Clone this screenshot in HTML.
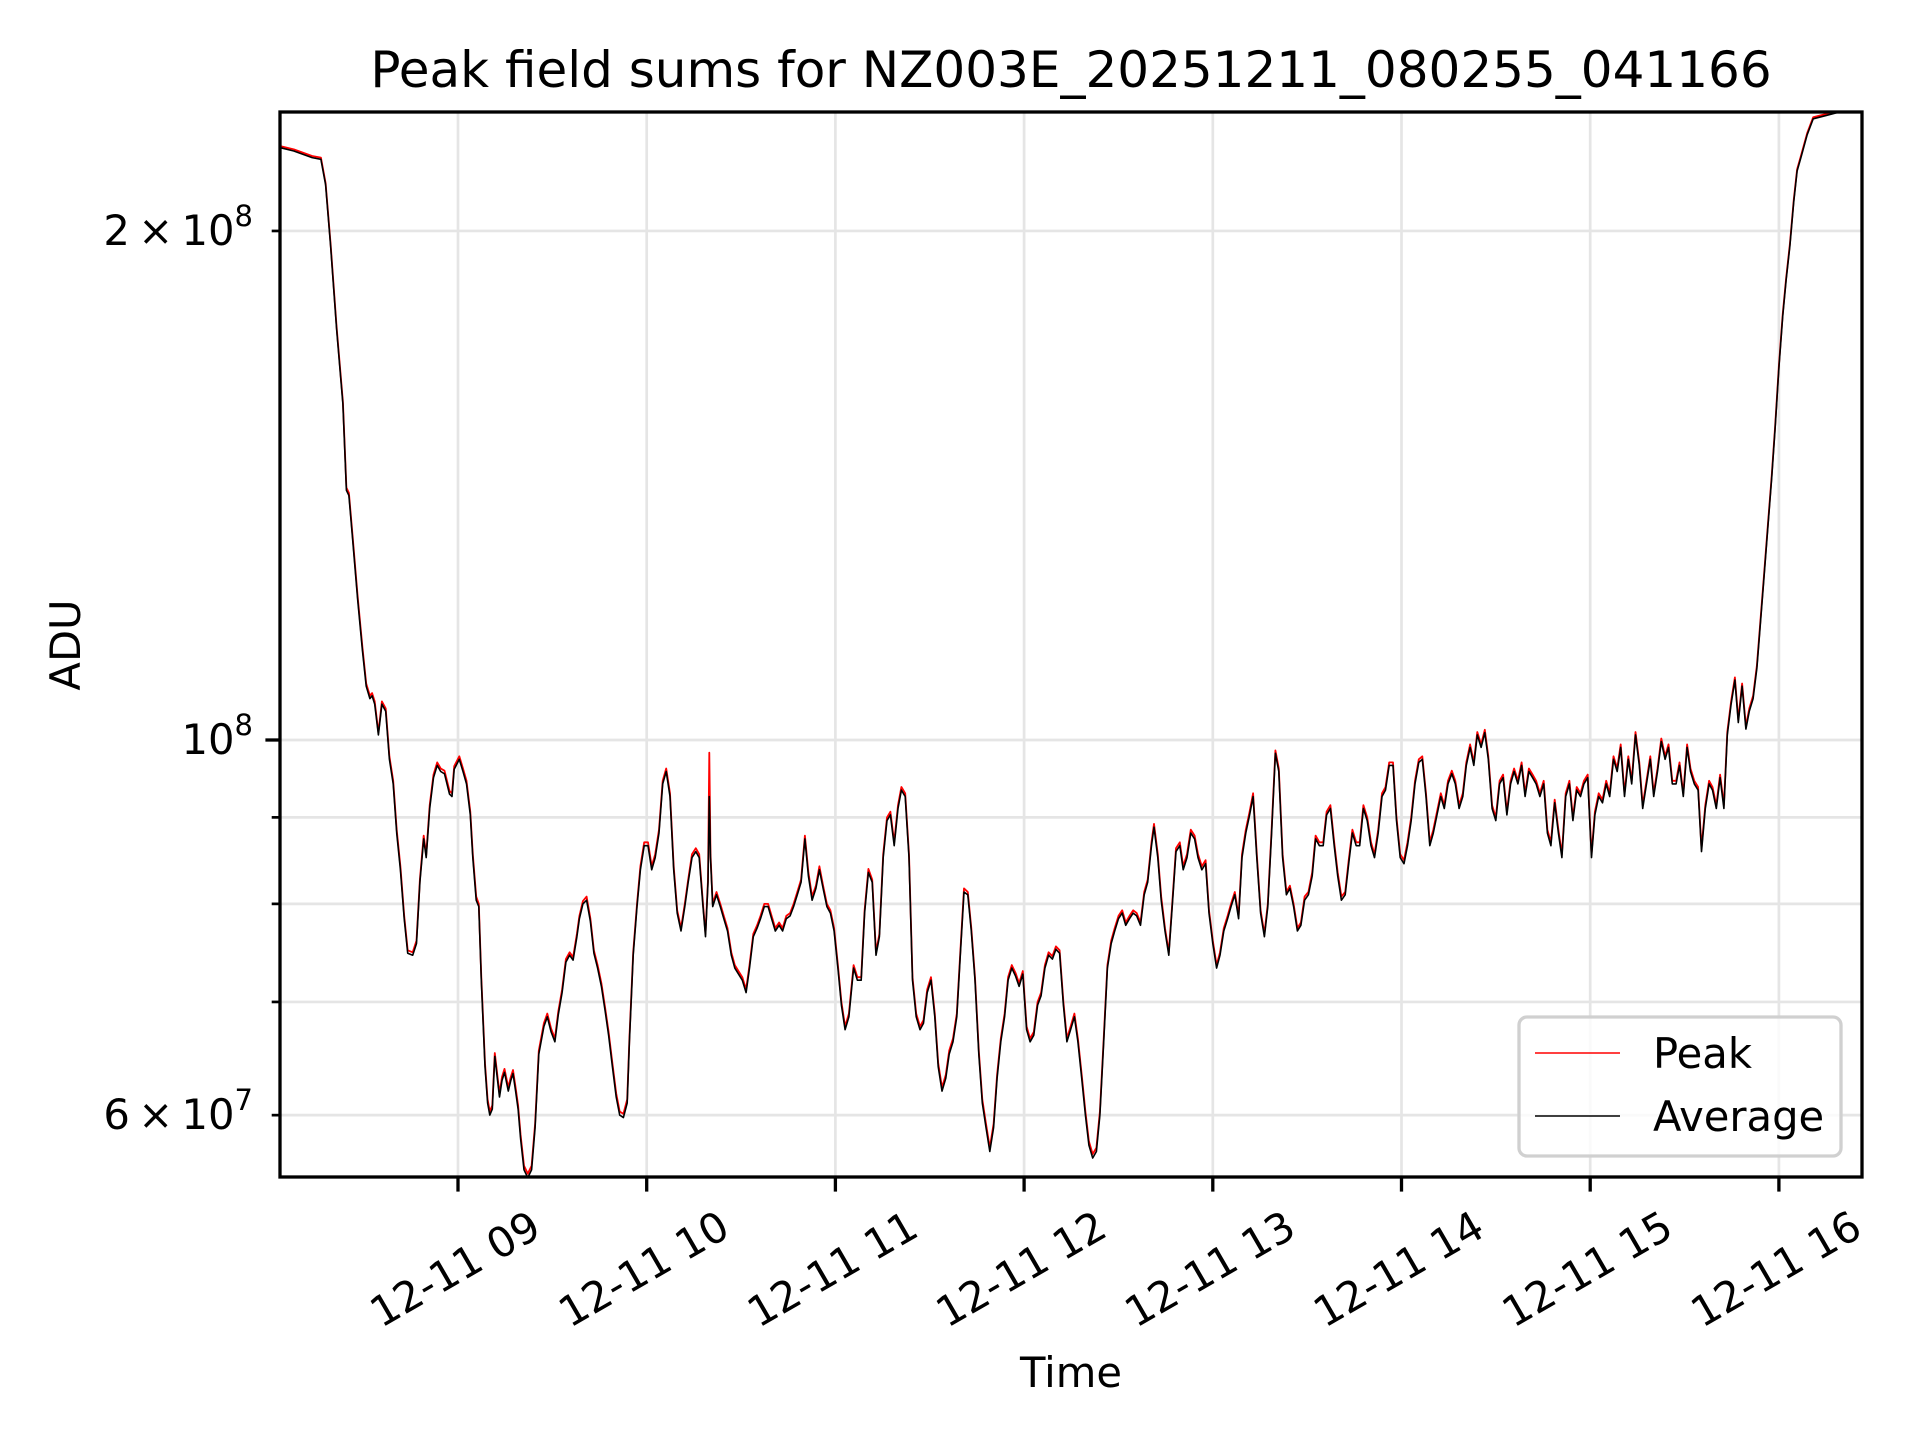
<!DOCTYPE html>
<html><head><meta charset="utf-8"><style>
html,body{margin:0;padding:0;background:#fff;}
svg{display:block;font-family:"DejaVu Sans","Liberation Sans",sans-serif;}
</style></head><body>
<svg id="chart" width="1920" height="1440" viewBox="0 0 1920 1440" xmlns="http://www.w3.org/2000/svg">
<rect x="0" y="0" width="1920" height="1440" fill="#fff"/>
<text x="1071" y="87" font-size="50" text-anchor="middle">Peak field sums for NZ003E_20251211_080255_041166</text>
<text transform="translate(80,645) rotate(-90)" font-size="41.7" text-anchor="middle">ADU</text>
<text x="1071" y="1387" font-size="41.7" text-anchor="middle">Time</text>
<defs><clipPath id="plotclip"><rect x="280" y="112" width="1582" height="1065"/></clipPath></defs>
<g id="grid"></g>
<g id="series" clip-path="url(#plotclip)"></g>
<rect x="280" y="112" width="1582" height="1065" fill="none" stroke="#000" stroke-width="3.3"/>
<g id="ticks"></g>
<g>
<rect x="1519" y="1017" width="322" height="139" rx="8" fill="#fff" fill-opacity="0.8" stroke="#d0d0d0" stroke-width="3.3"/>
<line x1="1535" y1="1053" x2="1620" y2="1053" stroke="#ff0000" stroke-width="1.6"/>
<text x="1653" y="1068" font-size="41.7">Peak</text>
<line x1="1535" y1="1116" x2="1620" y2="1116" stroke="#000" stroke-width="1.6"/>
<text x="1653" y="1131" font-size="41.7">Average</text>
</g>
</svg>
<script>
// time in minutes since 12-11 08:00; values in units of 1e7 ADU
const timesMin = [3.5,7.8,13.6,16.4,17.9,19.5,21.4,23.4,24.5,25.3,26.5,28.1,29.6,30.8,32.0,32.7,33.5,34.7,35.8,37.0,38.2,39.4,40.5,41.7,42.9,44.0,45.6,46.8,47.9,49.1,49.9,51.0,52.2,53.4,54.5,55.7,57.3,58.1,58.8,60.4,61.6,62.7,63.9,64.7,65.8,66.6,67.4,68.6,69.4,70.1,70.9,71.7,72.5,73.2,74.0,74.8,76.0,76.8,77.5,78.3,79.1,79.9,81.0,82.2,83.4,84.5,85.7,87.3,88.4,89.6,90.8,91.9,93.1,94.3,95.5,96.6,97.8,98.6,99.7,100.9,102.1,103.2,104.4,105.6,106.8,107.9,109.1,110.3,111.4,112.6,113.8,114.5,115.7,116.9,118.0,119.2,120.4,121.6,122.7,123.9,125.1,126.2,127.4,128.6,129.7,130.9,132.1,133.2,134.4,135.6,136.7,137.9,138.7,139.5,139.9,140.3,141.0,142.2,143.4,144.5,145.7,146.9,148.0,149.2,150.4,151.6,152.7,153.9,155.1,156.2,157.4,158.6,159.7,160.9,162.1,163.2,164.4,165.6,166.7,167.9,169.1,170.3,171.4,172.6,173.8,174.9,176.1,177.3,178.4,179.6,180.8,181.9,183.1,184.3,185.8,187.0,188.2,189.3,190.5,191.7,192.9,194.0,195.2,196.4,197.5,198.7,199.9,201.0,202.2,203.4,204.5,205.7,206.9,208.0,209.2,210.4,211.6,212.7,213.9,215.1,216.2,217.4,218.6,219.7,220.9,222.1,223.2,224.4,225.6,226.7,227.9,229.1,230.3,231.4,232.6,233.8,234.9,236.1,237.3,238.4,239.6,240.8,241.9,243.1,244.3,245.4,246.6,247.8,249.0,250.1,251.3,252.5,253.6,254.8,256.0,257.1,258.3,259.5,260.6,261.8,263.0,264.1,265.3,266.5,267.7,268.8,270.0,271.2,272.3,273.5,274.7,275.8,277.0,278.2,279.3,280.5,281.3,282.5,283.6,284.8,286.0,287.1,288.3,289.5,290.6,291.8,293.0,294.2,295.3,296.5,297.7,298.8,300.0,301.2,302.3,303.5,304.7,305.8,307.0,308.2,309.3,310.5,311.7,312.8,314.0,315.2,316.4,317.5,318.7,319.9,321.0,322.2,323.4,324.5,325.7,326.9,328.0,329.2,330.4,331.6,332.7,333.9,335.1,336.2,337.4,338.6,339.7,340.9,342.1,343.2,344.4,345.6,346.7,347.9,349.1,350.3,351.4,352.6,353.8,354.9,356.1,357.3,358.4,359.6,360.8,361.9,363.1,364.3,365.5,366.6,367.8,369.0,370.1,371.3,372.5,373.6,374.8,376.0,377.1,378.3,379.5,380.6,381.8,383.0,384.1,385.3,386.5,387.6,388.8,390.0,391.2,392.3,393.5,394.7,395.8,397.0,398.2,399.3,400.5,401.7,402.8,404.0,405.2,406.4,407.5,408.7,409.9,411.0,412.2,413.4,414.5,415.7,416.9,418.0,419.2,420.4,421.5,422.7,423.9,425.1,426.2,427.4,428.6,429.7,430.9,432.1,433.2,434.4,435.6,436.7,437.9,439.1,440.2,441.4,442.6,443.8,444.9,446.1,447.3,448.4,449.6,450.8,451.9,453.1,454.3,455.4,456.6,457.8,458.9,460.1,461.3,462.5,463.6,464.8,466.0,467.1,468.3,469.5,470.6,471.8,473.0,474.1,475.3,476.5,477.7,478.8,480.0,481.2,482.3,483.5,484.7,485.8,487.0,489.0,490.9,494.8,498.7,506.5];
const averageValues = [22.4,22.3,22.1,22.05,21.3,19.6,17.5,15.8,14.05,13.95,13.15,12.1,11.3,10.76,10.58,10.62,10.5,10.07,10.5,10.4,9.74,9.42,8.81,8.38,7.84,7.48,7.46,7.58,8.24,8.74,8.52,9.11,9.50,9.66,9.58,9.55,9.29,9.26,9.61,9.74,9.58,9.42,9.03,8.52,8.04,7.97,7.21,6.41,6.10,6.00,6.05,6.50,6.31,6.15,6.29,6.36,6.20,6.29,6.35,6.20,6.05,5.81,5.57,5.51,5.57,5.90,6.52,6.77,6.86,6.72,6.63,6.88,7.09,7.39,7.46,7.41,7.65,7.84,8.00,8.04,7.81,7.48,7.33,7.15,6.91,6.69,6.41,6.15,6.00,5.98,6.10,6.63,7.46,7.97,8.38,8.66,8.66,8.38,8.52,8.81,9.42,9.58,9.26,8.38,7.90,7.71,7.97,8.24,8.52,8.59,8.52,7.97,7.65,8.24,9.26,8.52,7.97,8.10,7.97,7.84,7.71,7.46,7.33,7.27,7.21,7.09,7.33,7.65,7.74,7.84,7.97,7.97,7.84,7.71,7.77,7.71,7.84,7.87,7.97,8.10,8.24,8.74,8.31,8.04,8.17,8.38,8.17,7.97,7.90,7.71,7.33,6.97,6.74,6.86,7.33,7.21,7.21,7.90,8.35,8.24,7.46,7.65,8.52,8.96,9.03,8.66,9.11,9.34,9.26,8.52,7.21,6.86,6.74,6.80,7.09,7.21,6.86,6.41,6.20,6.31,6.52,6.63,6.86,7.46,8.13,8.10,7.71,7.21,6.52,6.10,5.90,5.71,5.90,6.31,6.63,6.86,7.21,7.33,7.25,7.15,7.27,6.74,6.63,6.69,6.97,7.06,7.33,7.46,7.42,7.52,7.48,6.97,6.63,6.74,6.86,6.63,6.31,6.00,5.76,5.66,5.71,6.00,6.63,7.33,7.58,7.71,7.84,7.90,7.77,7.84,7.90,7.87,7.77,8.10,8.24,8.66,8.88,8.52,8.04,7.71,7.46,7.97,8.59,8.66,8.38,8.52,8.81,8.74,8.52,8.38,8.45,7.90,7.58,7.33,7.46,7.71,7.84,7.97,8.10,7.84,8.52,8.81,9.03,9.26,8.52,7.90,7.65,7.97,8.81,9.82,9.58,8.52,8.10,8.17,7.97,7.71,7.77,8.04,8.10,8.31,8.74,8.66,8.66,9.03,9.11,8.66,8.31,8.04,8.10,8.45,8.81,8.66,8.66,9.11,8.96,8.66,8.52,8.81,9.26,9.34,9.66,9.66,8.96,8.52,8.45,8.66,8.96,9.42,9.70,9.74,9.26,8.66,8.81,9.03,9.26,9.11,9.42,9.55,9.42,9.11,9.26,9.66,9.90,9.66,10.07,9.90,10.10,9.74,9.11,8.96,9.42,9.50,9.03,9.42,9.58,9.42,9.66,9.26,9.58,9.50,9.42,9.26,9.42,8.81,8.66,9.18,8.81,8.52,9.26,9.42,8.96,9.34,9.26,9.42,9.50,8.52,9.03,9.26,9.18,9.42,9.26,9.74,9.58,9.90,9.26,9.74,9.42,10.07,9.66,9.11,9.42,9.74,9.26,9.58,9.98,9.74,9.90,9.42,9.42,9.66,9.26,9.90,9.58,9.42,9.34,8.59,9.11,9.42,9.34,9.11,9.50,9.11,10.07,10.50,10.85,10.24,10.76,10.15,10.40,10.58,11.03,11.70,12.50,13.37,14.29,15.28,16.6,17.8,18.7,19.6,20.8,21.7,22.1,22.8,23.3,23.4,23.5,23.55];
const peakValues = [22.45,22.35,22.15,22.1,21.35,19.65,17.55,15.85,14.1,14.0,13.2,12.15,11.35,10.8,10.62,10.66,10.54,10.1,10.54,10.44,9.78,9.46,8.85,8.42,7.87,7.51,7.49,7.61,8.27,8.78,8.55,9.15,9.54,9.7,9.62,9.59,9.33,9.3,9.65,9.78,9.62,9.46,9.07,8.56,8.08,8.0,7.24,6.44,6.13,6.03,6.08,6.53,6.34,6.18,6.32,6.39,6.23,6.32,6.38,6.23,6.08,5.84,5.6,5.54,5.6,5.93,6.55,6.8,6.89,6.75,6.66,6.91,7.12,7.42,7.49,7.44,7.68,7.87,8.03,8.08,7.84,7.51,7.36,7.18,6.94,6.72,6.44,6.18,6.03,6.01,6.13,6.66,7.49,8.0,8.42,8.7,8.7,8.42,8.56,8.85,9.46,9.62,9.3,8.42,7.93,7.74,8.0,8.27,8.56,8.63,8.56,8.0,7.68,8.27,9.83,8.56,8.0,8.13,8.0,7.87,7.74,7.49,7.36,7.3,7.24,7.12,7.36,7.68,7.77,7.87,8.0,8.0,7.87,7.74,7.8,7.74,7.87,7.9,8.0,8.13,8.27,8.78,8.35,8.08,8.2,8.42,8.2,8.0,7.93,7.74,7.36,7.0,6.77,6.89,7.36,7.24,7.24,7.93,8.39,8.27,7.49,7.68,8.56,9.0,9.07,8.7,9.15,9.38,9.3,8.56,7.24,6.89,6.77,6.83,7.12,7.24,6.89,6.44,6.23,6.34,6.55,6.66,6.89,7.49,8.17,8.13,7.74,7.24,6.55,6.13,5.93,5.74,5.93,6.34,6.66,6.89,7.24,7.36,7.28,7.18,7.3,6.77,6.66,6.72,7.0,7.09,7.36,7.49,7.45,7.55,7.51,7.0,6.66,6.77,6.89,6.66,6.34,6.03,5.79,5.69,5.74,6.03,6.66,7.36,7.61,7.74,7.87,7.93,7.8,7.87,7.93,7.9,7.8,8.13,8.27,8.7,8.92,8.56,8.08,7.74,7.49,8.0,8.63,8.7,8.42,8.56,8.85,8.78,8.56,8.42,8.49,7.93,7.61,7.36,7.49,7.74,7.87,8.0,8.13,7.87,8.56,8.85,9.07,9.3,8.56,7.93,7.68,8.0,8.85,9.86,9.62,8.56,8.13,8.2,8.0,7.74,7.8,8.08,8.13,8.35,8.78,8.7,8.7,9.07,9.15,8.7,8.35,8.08,8.13,8.49,8.85,8.7,8.7,9.15,9.0,8.7,8.56,8.85,9.3,9.38,9.7,9.7,9.0,8.56,8.49,8.7,9.0,9.46,9.74,9.78,9.3,8.7,8.85,9.07,9.3,9.15,9.46,9.59,9.46,9.15,9.3,9.7,9.94,9.7,10.11,9.94,10.14,9.78,9.15,9.0,9.46,9.54,9.07,9.46,9.62,9.46,9.7,9.3,9.62,9.54,9.46,9.3,9.46,8.85,8.7,9.22,8.85,8.56,9.3,9.46,9.0,9.38,9.3,9.46,9.54,8.56,9.07,9.3,9.22,9.46,9.3,9.78,9.62,9.94,9.3,9.78,9.46,10.11,9.7,9.15,9.46,9.78,9.3,9.62,10.02,9.78,9.94,9.46,9.46,9.7,9.3,9.94,9.62,9.46,9.38,8.63,9.15,9.46,9.38,9.15,9.54,9.15,10.11,10.54,10.89,10.28,10.8,10.19,10.44,10.62,11.07,11.74,12.54,13.41,14.33,15.32,16.65,17.85,18.75,19.65,20.85,21.75,22.15,22.85,23.35,23.45,23.55,23.6];
const xTickHours = [9,10,11,12,13,14,15,16];
const xTickLabels = ["12-11 09","12-11 10","12-11 11","12-11 12","12-11 13","12-11 14","12-11 15","12-11 16"];
const yMajorTicks = [1e8];
const yMinorTicks = [6e7,7e7,8e7,9e7,2e8];
const yLabelMantissa = {"60000000":"6","200000000":"2"};

const NS="http://www.w3.org/2000/svg";
const PL=280, PR=1862, PT=112, PB=1177;
function xScale(min){ return 458 + (min-60)*188.7/60; }
function hourToMin(h){ return (h-8)*60; }
function yScale(v){ return 740 - 1691*(Math.log10(v)-8); }
function mk(tag, attrs, parent){ const e=document.createElementNS(NS,tag); for(const k in attrs) e.setAttribute(k,attrs[k]); parent.appendChild(e); return e; }

const grid=document.getElementById('grid');
const ticks=document.getElementById('ticks');
const series=document.getElementById('series');

xTickHours.forEach((h,i)=>{
  const x=xScale(hourToMin(h));
  const g=mk('line',{x1:x,y1:PT,x2:x,y2:PB,stroke:'#e5e5e5','stroke-width':2.7},grid);
  
  
  const t=mk('line',{x1:x,y1:PB,x2:x,y2:PB+14.6,stroke:'#000','stroke-width':3.3},ticks);
  
  
  const lab=mk('text',{x:0,y:0,'font-size':41.7,'text-anchor':'middle','dominant-baseline':'central',transform:'translate('+(x-3)+',1269) rotate(-30)'},ticks);
  lab.textContent=xTickLabels[i];
  
  
});

yMajorTicks.concat(yMinorTicks).forEach(v=>{
  const y=yScale(v);
  const major=yMajorTicks.indexOf(v)>=0;
  const g=mk('line',{x1:PL,y1:y,x2:PR,y2:y,stroke:'#e5e5e5','stroke-width':2.7},grid);
  
  
  const len=major?14.6:8.3;
  const t=mk('line',{x1:PL-len,y1:y,x2:PL,y2:y,stroke:'#000','stroke-width':major?3.3:2.7},ticks);
  
  
  let txt=null;
  if(major){
    txt=mk('text',{x:253,y:y+14,'font-size':41.7,'text-anchor':'end'},ticks);
    const a=mk('tspan',{},txt); a.textContent='10';
    const b=mk('tspan',{'font-size':29,dy:-19},txt); b.textContent=String(Math.round(Math.log10(v)));
  } else if(yLabelMantissa[String(v)]){
    const ex=Math.floor(Math.log10(v));
    txt=mk('text',{x:253,y:y+14,'font-size':41.7,'text-anchor':'end'},ticks);
    const a=mk('tspan',{},txt); a.textContent=yLabelMantissa[String(v)]+'\u2009\u00d7\u200910';
    const b=mk('tspan',{'font-size':29,dy:-19},txt); b.textContent=String(ex);
  }
  if(txt){
    
    
  }
});

function pathFor(vals){
  let d='';
  for(let i=0;i<timesMin.length;i++){
    d+=(i?'L':'M')+xScale(timesMin[i]).toFixed(1)+','+yScale(vals[i]*1e7).toFixed(1);
  }
  return d;
}
const peak=mk('path',{d:pathFor(peakValues),fill:'none',stroke:'#ff0000','stroke-width':1.8,'stroke-linejoin':'round'},series);


const avg=mk('path',{d:pathFor(averageValues),fill:'none',stroke:'#000','stroke-width':1.6,'stroke-linejoin':'round'},series);


</script>
</body></html>
